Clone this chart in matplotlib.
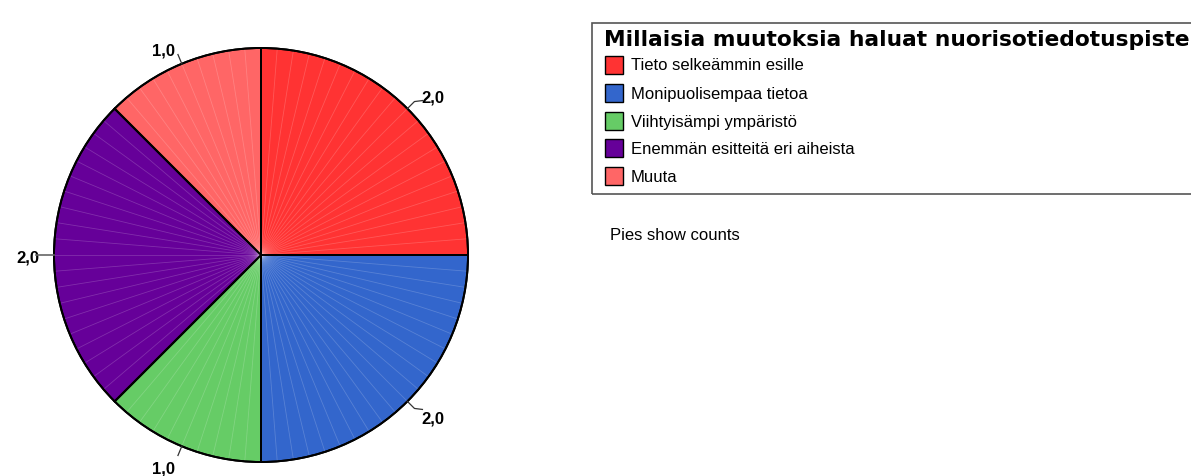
import numpy as np
import matplotlib
matplotlib.use("Agg")
import matplotlib.pyplot as plt

categories = ["Tieto selkeämmin esille", "Monipuolisempaa tietoa", "Viihtyisämpi ympäristö",
              "Enemmän esitteitä eri aiheista", "Muuta"]
counts = [2.0, 2.0, 1.0, 2.0, 1.0]
colors = ["#FF3333", "#3366CC", "#66CC66", "#660099", "#FF6666"]
title = "Millaisia muutoksia haluat nuorisotiedotuspiste"
note = "Pies show counts"

plt.rcParams['font.family'] = ['Liberation Sans', 'DejaVu Sans']
W, H = 1191, 477
fig = plt.figure(figsize=(W / 100, H / 100), dpi=100)
ax = fig.add_axes([0, 0, 1, 1])

cx, cy, R = 261, H - 256, 207
wedges, _ = ax.pie(counts, colors=colors, startangle=90, counterclock=False,
                   center=(cx, cy), radius=R,
                   wedgeprops=dict(edgecolor="black", linewidth=1.4))
ax.set_xlim(0, W)
ax.set_ylim(0, H)
ax.set_aspect("equal")
ax.axis("off")

total = sum(counts)
# faint radial fan lines
start = 90.0
for val in counts:
    span = 360.0 * val / total
    n = int(round(span / 4.5))
    for k in range(1, n):
        a = np.radians(start - span * k / n)
        ax.plot([cx, cx + R * np.cos(a)], [cy, cy + R * np.sin(a)],
                color="white", alpha=0.18, lw=0.6, zorder=3)
    start -= span
start = 90.0
for val in counts:
    a = np.radians(start)
    ax.plot([cx, cx + R * np.cos(a)], [cy, cy + R * np.sin(a)], color="black", lw=1.4, zorder=4)
    start -= 360.0 * val / total
ax.add_patch(plt.Circle((cx, cy), R, fill=False, ec="black", lw=1.4, zorder=4))

# value labels with leader lines
start = 90.0
for val in counts:
    span = 360.0 * val / total
    mid = np.radians(start - span / 2)
    c, s = np.cos(mid), np.sin(mid)
    x0, y0 = cx + R * c, cy + R * s
    x1, y1 = cx + (R + 10) * c, cy + (R + 10) * s
    lab = f"{val:.1f}".replace(".", ",")
    if abs(c) < 0.5:
        ax.plot([x0, x1], [y0, y1], color="#333333", lw=0.9, zorder=5)
        ty = y1 + (5 if s > 0 else 13) * np.sign(s)
        ax.text(x1 - 14, ty, lab, ha="center", va="center", fontsize=12,
                fontweight="bold", color="black")
    elif abs(s) < 0.1:
        x2 = x0 + 18 * np.sign(c)
        ax.plot([x0, x2], [y0, y0], color="#666666", lw=1.2, zorder=5)
        ax.text(x2 - 3 * np.sign(c), y0 - 2, lab, ha="right" if c < 0 else "left",
                va="center", fontsize=12, fontweight="bold", color="black")
    else:
        x2 = x1 + 8 * np.sign(c)
        ax.plot([x0, x1, x2], [y0, y1, y1 + 1 * np.sign(s)], color="#333333", lw=0.9, zorder=5)
        ax.text(x2 + 10, y1 + (5 if s > 0 else -10), lab, ha="center", va="center",
                fontsize=12, fontweight="bold", color="black")
    start -= span

# legend box
ax.add_patch(plt.Rectangle((592, H - 195), 700, 171, fill=False, ec="#555555", lw=1.2,
                           clip_on=False, zorder=2))
ax.text(604, H - 40, title, ha="left", va="center", fontsize=15.7, fontweight="bold",
        color="black", family="DejaVu Sans")
row_y = [66, 94, 122, 149, 177]
for name, col, ry in zip(categories, colors, row_y):
    ax.add_patch(plt.Rectangle((605, H - ry - 9), 18, 18, fc=col, ec="black", lw=1.0, zorder=3))
    ax.text(631, H - ry, name, ha="left", va="center", fontsize=12, color="black")

ax.text(610, H - 236, note, ha="left", va="center", fontsize=12, color="black")

fig.savefig("out.png", dpi=100)
